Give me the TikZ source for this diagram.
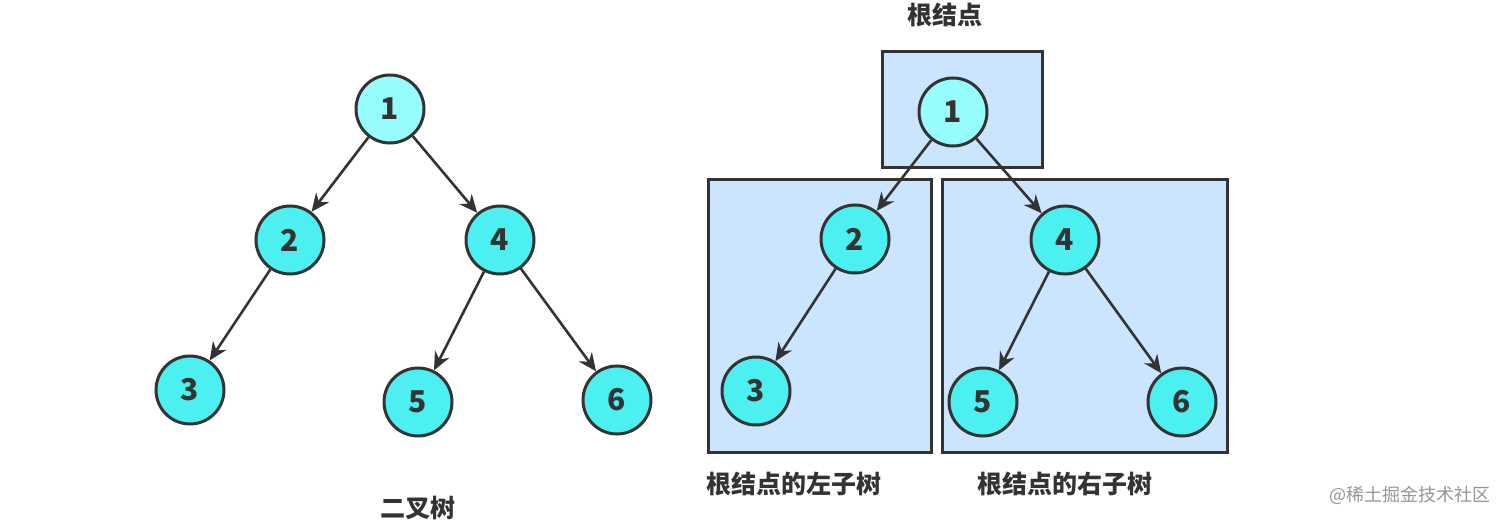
\documentclass[tikz,border=0pt]{standalone}
\usepackage{fontspec}
\setmainfont{Noto Sans CJK SC}
\usetikzlibrary{positioning, arrows.meta}
\definecolor{tcyan}{RGB}{77,240,240}
\definecolor{tlight}{RGB}{150,252,252}
\definecolor{tbox}{RGB}{204,229,255}
\definecolor{tdark}{RGB}{51,51,51}
\definecolor{tgrey}{RGB}{150,150,150}

\tikzset{
    tnode/.style={circle, draw=tdark, line width=1.5pt, fill=tcyan, minimum size=34pt, inner sep=0pt, font=\fontsize{15}{15}\selectfont\bfseries, text=tdark},
    troot/.style={tnode, fill=tlight},
    tedge/.style={draw=tdark, line width=1.3pt, -{Stealth[length=9pt,width=8pt]}},
    tbox/.style={draw=tdark, line width=1.5pt, fill=tbox},
    tlabel/.style={font=\fontsize{12.5}{12.5}\selectfont\bfseries, text=tdark}
}

\begin{document}
\begin{tikzpicture}[x=0.5pt, y=-0.5pt]
        \path[use as bounding box, fill=white] (0,0) rectangle (1512,524);

        % left tree
        \node[troot] (l1) at (390,109) {1};
        \node[tnode] (l2) at (290,240) {2};
        \node[tnode] (l4) at (500,240) {4};
        \node[tnode] (l3) at (190,390) {3};
        \node[tnode] (l5) at (418,402) {5};
        \node[tnode] (l6) at (617,400) {6};
        \foreach \a/\b in {l1/l2, l1/l4, l2/l3, l4/l5, l4/l6}
        {
            \draw[tedge] (\a) -- (\b);
        }
        \node[tlabel] (ltitle) at (418,508) {二叉树};

        % subtree boxes
        \draw[tbox] (882,52) rectangle (1042,168);
        \draw[tbox] (708,180) rectangle (931,452);
        \draw[tbox] (942,180) rectangle (1227,452);

        % right tree
        \node[troot] (r1) at (953,112) {1};
        \node[tnode] (r2) at (855,239) {2};
        \node[tnode] (r4) at (1065,240) {4};
        \node[tnode] (r3) at (756,391) {3};
        \node[tnode] (r5) at (983,402) {5};
        \node[tnode] (r6) at (1182,402) {6};
        \foreach \a/\b in {r1/r2, r1/r4, r2/r3, r4/r5, r4/r6}
        {
            \draw[tedge] (\a) -- (\b);
        }

        % labels
        \node[tlabel] (rroot) at (945,15) {根结点};
        \node[tlabel] (rleft) at (794,484) {根结点的左子树};
        \node[tlabel] (rright) at (1065,484) {根结点的右子树};
        \node[font=\fontsize{9}{9}\selectfont, text=tgrey] (mark) at (1410,495) {@稀土掘金技术社区};
    \end{tikzpicture}
\end{document}
